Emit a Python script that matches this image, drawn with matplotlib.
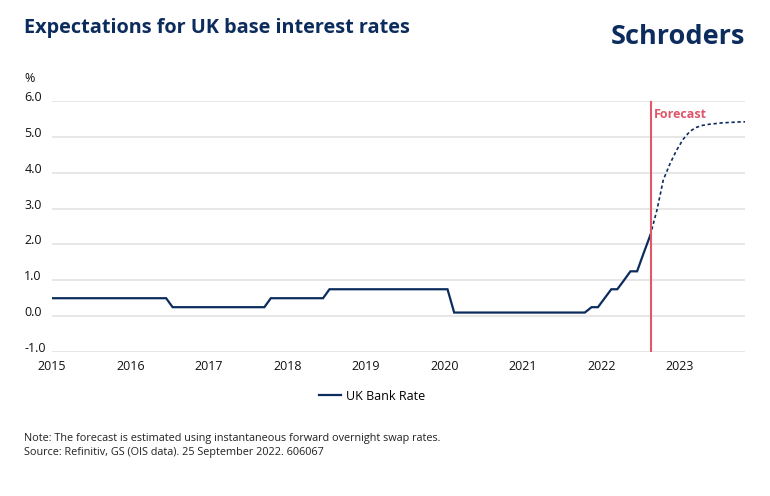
import pandas as pd
import numpy as np
from matplotlib import pyplot as plt
import matplotlib.dates as mdates

plt.rcParams['font.family'] = ['Open Sans', 'DejaVu Sans']

NAVY = '#0c2c5e'
RED = '#e0566b'

# monthly UK Bank Rate (one point per month)
bank_rate = [0.5] * 19 + [0.25] * 15 + [0.5] * 9 + [0.75] * 19 + [0.1] * 21 + \
            [0.25, 0.25, 0.5, 0.75, 0.75, 1.0, 1.25, 1.25, 1.75, 2.25]
bank_dates = pd.date_range('2014-12-15', periods=len(bank_rate), freq=pd.DateOffset(months=1))

# forward curve from OIS, continues on from the last bank rate point
forecast_rate = [2.25, 2.95, 3.8, 4.25, 4.62, 4.93, 5.15, 5.26, 5.32, 5.35, 5.37,
                 5.39, 5.40, 5.41, 5.42, 5.42]
forecast_dates = pd.date_range('2022-08-15', periods=len(forecast_rate), freq=pd.DateOffset(months=1))

forecast_start = pd.Timestamp('2022-08-18')
y_ticks = [-1.0, 0.0, 1.0, 2.0, 3.0, 4.0, 5.0, 6.0]
year_ticks = [str(y) for y in range(2015, 2024)]


def draw_chart():
    fig = plt.figure(figsize=(7.7, 4.96), dpi=100)
    ax = fig.add_axes([52 / 770, 1 - 352 / 496, 693 / 770, 251 / 496])

    ax.plot(bank_dates, bank_rate, color=NAVY, lw=1.6, label='UK Bank Rate',
            solid_joinstyle='miter')
    ax.plot(forecast_dates, forecast_rate, color=NAVY, lw=1.2, linestyle=(0, (2, 1.6)))
    ax.axvline(forecast_start, color=RED, lw=1.5, zorder=3)
    ax.annotate('Forecast', xy=(forecast_start, 6.0), xytext=(2.5, -5), textcoords='offset points',
                color=RED, fontsize=9, fontweight='bold', va='top', ha='left')

    ax.set_ylim(-1, 6)
    ax.set_xlim(pd.Timestamp('2015-01-01'), pd.Timestamp('2023-10-30'))
    ax.set_yticks(y_ticks)
    ax.set_yticklabels(['%.1f' % v for v in y_ticks])
    ax.set_xticks([pd.Timestamp(y + '-01-01') for y in year_ticks])
    ax.set_xticklabels(year_ticks)
    ax.tick_params(axis='y', length=0, pad=20, labelsize=9, labelcolor='#111111')
    ax.tick_params(axis='x', length=0, pad=6, labelsize=9, labelcolor='#111111')
    for lbl in ax.get_yticklabels():
        lbl.set_horizontalalignment('left')
        lbl.set_verticalalignment('baseline')

    ax.grid(axis='y', color='#e3e3e3', lw=1.2)
    ax.set_axisbelow(True)
    for s in ax.spines.values():
        s.set_visible(False)

    ax.legend(loc='center', bbox_to_anchor=(372 / 770, 1 - 396 / 496), bbox_transform=fig.transFigure,
              frameon=False, fontsize=9, handlelength=1.8, handletextpad=0.4)

    fig.text(24 / 770, 1 - 28 / 496, 'Expectations for UK base interest rates', fontsize=14.3,
             fontweight='bold', color=NAVY, va='center', ha='left')
    fig.text(745 / 770, 1 - 37 / 496, 'Schroders', fontsize=19.5, fontweight='bold',
             color=NAVY, va='center', ha='right')
    fig.text(24 / 770, 1 - 79 / 496, '%', fontsize=9, color='#111111', va='center', ha='left')
    fig.text(24 / 770, 1 - 438 / 496, 'Note: The forecast is estimated using instantaneous forward overnight swap rates.',
             fontsize=7.8, color='#222222', va='center', ha='left')
    fig.text(24 / 770, 1 - 452 / 496, 'Source: Refinitiv, GS (OIS data). 25 September 2022. 606067',
             fontsize=7.8, color='#222222', va='center', ha='left')

    fig.savefig('out.png', dpi=100)


if __name__ == '__main__':
    draw_chart()
